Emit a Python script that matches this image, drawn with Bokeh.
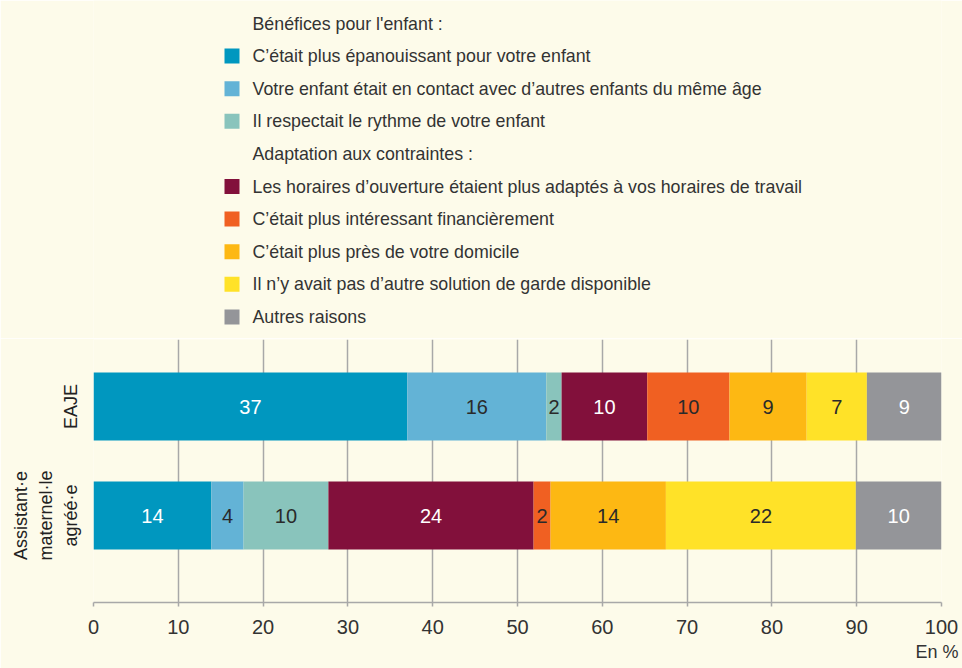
import numpy as np
from bokeh.plotting import figure
from bokeh.layouts import column
from bokeh.models import ColumnDataSource, Range1d, FixedTicker, Title
from bokeh.core.properties import value
from bokeh.embed import file_html
from bokeh.resources import INLINE

# ---------------- data ----------------
categories = ["Assistant·e\nmaternel·le\nagréé·e", "EAJE"]
groups = ["Bénéfices pour l'enfant :", "Adaptation aux contraintes :"]
reasons = [
    "C\u2019était plus épanouissant pour votre enfant",
    "Votre enfant était en contact avec d\u2019autres enfants du même âge",
    "Il respectait le rythme de votre enfant",
    "Les horaires d\u2019ouverture étaient plus adaptés à vos horaires de travail",
    "C\u2019était plus intéressant financièrement",
    "C\u2019était plus près de votre domicile",
    "Il n\u2019y avait pas d\u2019autre solution de garde disponible",
    "Autres raisons",
]
reason_group = [0, 0, 0, 1, 1, 1, 1, 1]
assistant = [13.9, 3.8, 10.0, 24.2, 2.0, 13.6, 22.4, 10.1]
eaje = [37.0, 16.4, 1.8, 10.1, 9.7, 9.1, 7.1, 8.8]
x_ticks = [0, 10, 20, 30, 40, 50, 60, 70, 80, 90, 100]
unit_label = "En %"

# ---------------- style ----------------
colors = ["#0097BF", "#63B3D6", "#89C4BC", "#82103B",
          "#F06022", "#FDB813", "#FFE228", "#949599"]
label_colors = ["white", "#2a2a2a", "#2a2a2a", "white",
                "#2a2a2a", "#2a2a2a", "#2a2a2a", "white"]
BG = "#FDFBEA"
FONT = "Liberation Sans"
TXT = "#333333"
BL, FW, BR = 93, 848, 21   # left border, frame width, right border
FH = 263
Y0, Y1 = -0.798, 1.615

# ---------------- legend figure ----------------
leg = figure(frame_width=FW, frame_height=338, x_range=Range1d(BL, BL + FW),
             y_range=Range1d(338, 0), x_axis_type=None, y_axis_type=None,
             output_backend="svg", toolbar_location=None,
             min_border_left=BL, min_border_right=BR, min_border_top=0, min_border_bottom=0)
leg.grid.visible = False
leg.outline_line_color = None
leg.background_fill_color = BG
leg.border_fill_color = BG

rows_text, rows_y, sw_y, sw_c = [], [], [], []
i = 0
for g, gname in enumerate(groups):
    rows_text.append(gname)
    rows_y.append(23 + 32.6 * i)
    i += 1
    for k, r in enumerate(reasons):
        if reason_group[k] != g:
            continue
        rows_text.append(r)
        rows_y.append(23 + 32.6 * i)
        sw_y.append(23 + 32.6 * i)
        sw_c.append(colors[k])
        i += 1

leg.rect(x=[231.5] * len(sw_y), y=sw_y, width=15, height=15, fill_color=sw_c, line_color=None)
leg.text(x=[252] * len(rows_y), y=rows_y, text=rows_text, text_font=value(FONT),
         text_font_size="17.8px", text_color=TXT, text_baseline="middle", text_align="left")

# ---------------- chart figure ----------------
p = figure(frame_width=FW, frame_height=FH, x_range=Range1d(0, 100),
           y_range=Range1d(Y0, Y1),
           output_backend="svg", toolbar_location=None,
           min_border_left=BL, min_border_right=BR, min_border_top=1, min_border_bottom=66)
p.background_fill_color = BG
p.border_fill_color = BG
p.outline_line_color = None

keys = ["s%d" % k for k in range(len(reasons))]
data = {"y": [0, 1]}
for k in range(len(reasons)):
    data[keys[k]] = [assistant[k], eaje[k]]
src = ColumnDataSource(data)
p.hbar_stack(keys, y="y", height=0.624, color=colors, line_color=None, source=src)

lx, ly, lt, lc = [], [], [], []
for yi, vals in enumerate([assistant, eaje]):
    cum = np.cumsum(vals)
    for k, v in enumerate(vals):
        lx.append(cum[k] - v / 2)
        ly.append(yi)
        lt.append(str(int(round(v))))
        lc.append(label_colors[k])
p.text(x=lx, y=ly, text=lt, text_color=lc, text_font=value(FONT), text_font_size="20px",
       text_align="center", text_baseline="middle")

p.xaxis.ticker = FixedTicker(ticks=x_ticks)
p.xaxis.axis_line_color = "#A8A8A8"
p.xaxis.axis_line_width = 1.5
p.xaxis.major_tick_line_color = "#A8A8A8"
p.xaxis.major_tick_line_width = 1.5
p.xaxis.major_tick_out = 4
p.xaxis.major_tick_in = 0
p.xaxis.minor_tick_line_color = None
p.xaxis.major_label_text_font = FONT
p.xaxis.major_label_text_font_size = "20px"
p.xaxis.major_label_text_color = TXT
p.xaxis.major_label_standoff = 13

p.yaxis.ticker = FixedTicker(ticks=[0, 1])
p.yaxis.major_label_overrides = {0: categories[0], 1: categories[1]}
p.yaxis.major_label_orientation = "vertical"
p.yaxis.axis_line_color = None
p.yaxis.major_tick_line_color = None
p.yaxis.major_tick_out = 0
p.yaxis.minor_tick_line_color = None
p.yaxis.major_label_text_font = FONT
p.yaxis.major_label_text_font_size = "18px"
p.yaxis.major_label_text_line_height = 1.25
p.yaxis.major_label_text_color = "#222222"
p.yaxis.major_label_standoff = 12

p.xgrid.ticker = FixedTicker(ticks=x_ticks)
p.xgrid.grid_line_color = "#A8A8A8"
p.xgrid.grid_line_width = 1.5
p.ygrid.grid_line_color = None

p.add_layout(Title(text=unit_label, align="right", text_font=FONT, text_font_size="18px",
                   text_font_style="normal", text_color=TXT, standoff=6, offset=-17), "below")

layout = column(leg, p, spacing=0)
open("out.html", "w").write(file_html(layout, INLINE))
